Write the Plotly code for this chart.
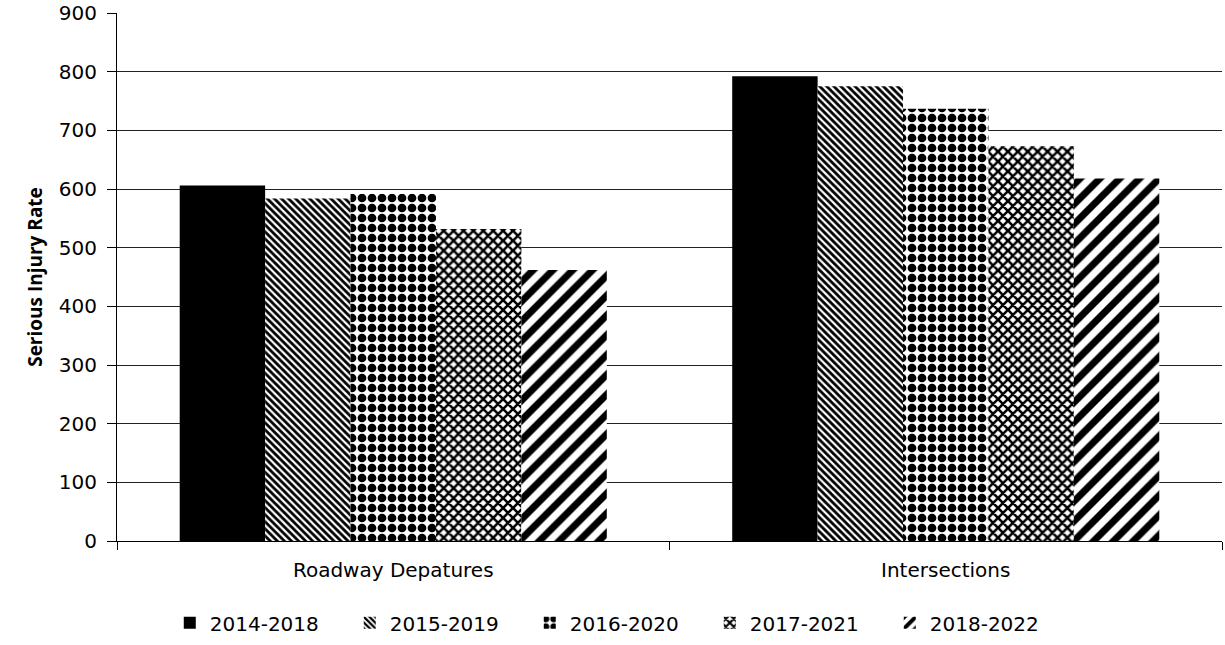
import plotly.graph_objects as go

categories = ["Roadway Depatures", "Intersections"]
series_names = ["2014-2018", "2015-2019", "2016-2020", "2017-2021", "2018-2022"]
v_2014_2018 = [606, 792]
v_2015_2019 = [584, 775]
v_2016_2020 = [592, 737]
v_2017_2021 = [532, 673]
v_2018_2022 = [462, 618]
values = [v_2014_2018, v_2015_2019, v_2016_2020, v_2017_2021, v_2018_2022]

patterns = [
    dict(shape=""),
    dict(shape="\\", size=5, solidity=0.55, fgcolor="black", bgcolor="white", fgopacity=1),
    dict(shape=".", size=10, solidity=0.6, fgcolor="black", bgcolor="white", fgopacity=1),
    dict(shape="x", size=7, solidity=0.6, fgcolor="black", bgcolor="white", fgopacity=1),
    dict(shape="/", size=14, solidity=0.5, fgcolor="black", bgcolor="white", fgopacity=1),
]

fig = go.Figure()
for name, vals, pat in zip(series_names, values, patterns):
    fig.add_trace(go.Bar(
        x=categories, y=vals, name=name,
        marker=dict(color="black" if pat["shape"] == "" else "white",
                    pattern=pat, line=dict(width=0)),
    ))

fig.update_layout(
    width=1225, height=645,
    margin=dict(l=117, r=3, t=13, b=104, autoexpand=False),
    paper_bgcolor="white", plot_bgcolor="white",
    barmode="group", bargap=0.227, bargroupgap=0,
    font=dict(family="DejaVu Sans, sans-serif", size=20, color="black"),
    showlegend=True,
    legend=dict(orientation="h", x=0.455, xanchor="center", y=-0.118, yanchor="top",
                font=dict(size=20), tracegroupgap=0, itemsizing="constant",
                entrywidth=135, entrywidthmode="pixels"),
    xaxis=dict(showline=True, linecolor="black", linewidth=1, ticks="outside",
               tickson="boundaries", ticklen=8, tickcolor="black",
               tickfont=dict(size=20), ticklabelstandoff=11),
    yaxis=dict(range=[0, 900], dtick=100, showline=True, linecolor="black", linewidth=1,
               ticks="outside", ticklen=9, tickcolor="black",
               showgrid=True, gridcolor="#222222", gridwidth=1,
               zeroline=False, tickfont=dict(size=20), ticklabelstandoff=6,
               title=dict(text="<b>Serious Injury Rate</b>", standoff=11,
                          font=dict(family="Open Sans, sans-serif", size=19))),
)

fig.write_html("out.html")
